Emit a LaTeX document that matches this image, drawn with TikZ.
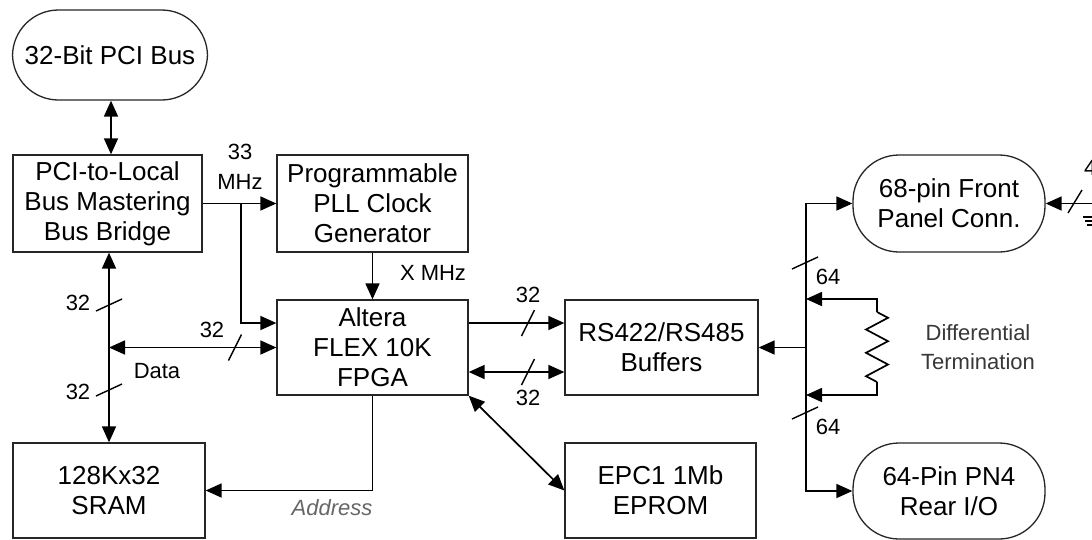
\documentclass[tikz,border=0pt]{standalone}
\usepackage{fontspec}
\setmainfont{Liberation Sans}
\usetikzlibrary{arrows.meta,calc}
\begin{document}
\begin{tikzpicture}[x=1pt,y=-1pt,
  box/.style={draw=black!85, line width=1.3pt, inner sep=0pt, align=center,
    font=\fontsize{26}{30}\selectfont, minimum width=192pt, minimum height=96pt},
  stad/.style={box, rounded corners=46pt},
  conn/.style={line width=1.7pt},
  arr/.style={conn, -{Triangle[length=16pt,width=14pt]}},
  dbl/.style={conn, {Triangle[length=16pt,width=14pt]}-{Triangle[length=16pt,width=14pt]}},
  lbl/.style={font=\fontsize{22}{26}\selectfont, inner sep=0pt},
  sl/.style={line width=1.4pt},
  hslash/.pic={\draw[sl] (-6.5,13) -- (6.5,-13);},
  vslash/.pic={\draw[sl] (-13,6) -- (13,-6);},
  fslash/.pic={\draw[sl] (-7,11) -- (7,-12);}
]
\clip (0,0) rectangle (1092,539);
\fill[white] (0,0) rectangle (1092,539);

% nodes
\node[stad, minimum width=195pt, minimum height=90pt] (pci) at (110,55) {32-Bit PCI Bus};
\node[box, minimum width=189pt, minimum height=97pt] (bridge) at (107.5,203.5) {PCI-to-Local\\Bus Mastering\\Bus Bridge};
\node[box, minimum width=191pt, minimum height=97pt] (pll) at (372.5,203.5) {Programmable\\PLL Clock\\Generator};
\node[box, minimum width=191pt, minimum height=95pt] (fpga) at (372.5,347.5) {Altera\\FLEX 10K\\FPGA};
\node[box, minimum width=193pt, minimum height=95pt] (rs) at (661.5,347.5) {RS422/RS485\\Buffers};
\node[box, minimum width=192pt, minimum height=95pt] (sram) at (109,490.5) {128Kx32\\SRAM};
\node[box, minimum width=191pt, minimum height=95pt] (eprom) at (660.5,490.5) {EPC1 1Mb\\EPROM};
\node[stad, minimum width=192pt, minimum height=97pt] (front) at (949,203.5) {68-pin Front\\Panel Conn.};
\node[stad, minimum width=192pt, minimum height=96pt] (rear) at (949,491) {64-Pin PN4\\Rear I/O};

% coordinates
\coordinate (pcix) at (111,0);
\coordinate (bus) at (109,347.5);
\coordinate (cj) at (241,203.5);
\coordinate (rb) at (806,347.5);
\coordinate (rtop) at (877,299);
\coordinate (rbot) at (877,395);
\coordinate (fx) at (1110,203.5);

% PCI bus to bridge
\draw[dbl] (pci.south -| pcix) -- (bridge.north -| pcix);
% clock
\draw[arr] (bridge.east) -- (pll.west);
\draw[arr] (cj) |- (fpga.west |- 0,323);
\node[lbl] (l33) at (240,152) {33};
\node[lbl] (lmhz) at (240,182) {MHz};
\draw[arr] (pll.south) -- (fpga.north);
\node[lbl] (lxm) at (433,273) {X MHz};

% local bus
\draw[arr] (bus) -- (bridge.south -| bus);
\draw[arr] (bus) -- (sram.north -| bus);
\draw[dbl] (bus) -- (fpga.west);
\pic at (109,305) {vslash};
\pic at (109,390) {vslash};
\pic at (235,347.5) {hslash};
\node[lbl] (lb1) at (78,303) {32};
\node[lbl] (lb2) at (78,392) {32};
\node[lbl] (lb3) at (212,330) {32};
\node[lbl] (ldata) at (157,371) {Data};

% address
\draw[arr] (fpga.south) |- (sram.east);
\node[lbl, font=\fontsize{22}{26}\selectfont\itshape, text=black!60] (laddr) at (332,508) {Address};

% FPGA to RS buffers
\draw[arr] (fpga.east |- 0,323) -- (rs.west |- 0,323);
\draw[dbl] (fpga.east |- 0,372) -- (rs.west |- 0,372);
\pic at (528,323) {hslash};
\pic at (528,372) {hslash};
\node[lbl] (lr1) at (528,295) {32};
\node[lbl] (lr2) at (528,398) {32};

% FPGA to EPROM
\draw[dbl] (fpga.south east) -- (eprom.west);

% right bus
\draw[arr] (rb) |- (front.west);
\draw[arr] (rb) |- (rear.west);
\draw[arr] (rb) -- (rs.east);
\pic at (805,263) {vslash};
\pic at (805,413) {vslash};
\node[lbl] (l64a) at (828,277) {64};
\node[lbl] (l64b) at (828,427) {64};

% differential termination
\draw[arr] (877,312) -- (rtop) -- (rb |- rtop);
\draw[conn] (877,312) -- (888,317.8) -- (866,329.5) -- (888,341.2) -- (866,352.8)
  -- (888,364.5) -- (866,376.2) -- (877,382);
\draw[arr] (877,382) -- (rbot) -- (rb |- rbot);
\node[lbl, text=black!78, align=center, font=\fontsize{22}{29}\selectfont] (ldiff) at (978,347.5) {Differential\\Termination};

% cut-off part at the right edge (as in the reference)
\draw[arr] (fx) -- (front.east);
\pic at (1075,202) {fslash};
\node[lbl, anchor=base west] (l4) at (1084,175) {4};
\draw[line width=1.2pt] (1083,217) -- (1110,217);
\draw[line width=1.2pt] (1085,221) -- (1110,221);
\draw[line width=1.2pt] (1087,225) -- (1110,225);
\end{tikzpicture}
\end{document}
